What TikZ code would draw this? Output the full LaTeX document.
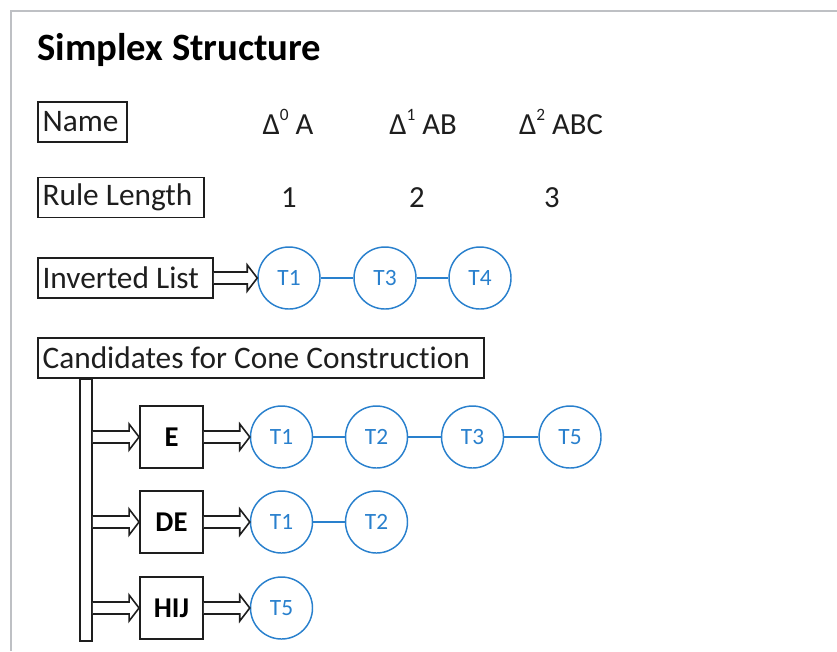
\documentclass[tikz,border=0pt]{standalone}
\usepackage{fontspec}
\setmainfont{Carlito}[Ligatures=NoCommon]
\usetikzlibrary{calc}
\definecolor{tblue}{RGB}{41,128,205}
\definecolor{framegray}{RGB}{190,192,196}
\definecolor{ink}{RGB}{30,30,30}
\newcommand\hollowarrow[2]{%
  \draw[harrow] let \p1=(#1), \p2=(#2) in
    (\x1,\y1+4.5pt) -- (\x2-7.5pt,\y1+4.5pt) -- (\x2-7.5pt,\y1+9.75pt) -- (\x2,\y1)
    -- (\x2-7.5pt,\y1-9.75pt) -- (\x2-7.5pt,\y1-4.5pt) -- (\x1,\y1-4.5pt);}
\newcommand\supnum[1]{\raisebox{0.45em}{\fontsize{13}{13}\selectfont #1}}
\newcommand\boxtext[2]{\makebox[#1][l]{#2}}
\begin{document}
\begin{tikzpicture}[x=0.75pt,y=-0.75pt,
  lbl/.style={draw=ink, line width=1.4pt, inner ysep=0pt, inner xsep=3.5pt,
    minimum height=30pt, anchor=west,
    text=ink, font=\fontsize{23.5}{28}\selectfont},
  plain/.style={inner sep=0pt, text=ink, font=\fontsize{23}{27}\selectfont},
  keybox/.style={draw=ink, line width=1.4pt, inner sep=0pt, minimum width=47.25pt,
    minimum height=46.5pt, text=black, font=\fontsize{21.5}{25}\selectfont\bfseries},
  tnode/.style={circle, draw=tblue, line width=1.1pt, minimum size=46.5pt, inner sep=0pt,
    text=tblue, font=\fontsize{17.5}{20}\selectfont},
  tline/.style={draw=tblue, line width=1.1pt},
  harrow/.style={draw=ink, line width=1.2pt, fill=white, line join=miter},
  framestyle/.style={draw=framegray, line width=1.6pt}]
\useasboundingbox (0,0) rectangle (837,651);
\draw[framestyle] (11,651) -- (11,11) -- (837,11);

\node[anchor=base west, inner sep=0pt, text=black,
  font=\fontsize{29}{34}\selectfont\bfseries] (title) at (37,60) {Simplex Structure};

\node[lbl] (name) at (37,122) {\boxtext{59.75pt}{Name}};
\node[plain] (d0) at (288,122) {Δ\supnum{0} A};
\node[plain] (d1) at (423,122) {Δ\supnum{1} AB};
\node[plain] (d2) at (561,122) {Δ\supnum{2} ABC};

\node[lbl] (rule) at (37,197.5) {\boxtext{117.5pt}{Rule Length}};
\node[plain] (n1) at (289,198) {1};
\node[plain] (n2) at (417,198) {2};
\node[plain] (n3) at (552,198) {3};

\node[lbl] (inv) at (37,278) {\boxtext{124.25pt}{Inverted List}};
\node[tnode] (i1) at (289,278) {T1};
\node[tnode] (i3) at (385,278) {T3};
\node[tnode] (i4) at (480,278) {T4};
\hollowarrow{inv.east}{i1.west}
\draw[tline] (i1) -- (i3);
\draw[tline] (i3) -- (i4);

\node[lbl] (cand) at (37,358) {\boxtext{327.5pt}{Candidates for Cone Construction}};
\node[draw=ink, line width=1.4pt, minimum width=9pt, minimum height=196.5pt, inner sep=0pt,
  anchor=north] (bar) at (86,378) {};

\node[keybox] (e) at (171.5,437) {E};
\node[keybox] (de) at (171.5,522) {DE};
\node[keybox] (hij) at (171.5,608) {HIJ};

\hollowarrow{bar.east |- e.west}{e.west}
\hollowarrow{bar.east |- de.west}{de.west}
\hollowarrow{bar.east |- hij.west}{hij.west}

\node[tnode] (e1) at (281.5,437) {T1};
\node[tnode] (e2) at (376.5,437) {T2};
\node[tnode] (e3) at (472.5,437) {T3};
\node[tnode] (e5) at (570,437) {T5};
\hollowarrow{e.east}{e1.west}
\draw[tline] (e1) -- (e2);
\draw[tline] (e2) -- (e3);
\draw[tline] (e3) -- (e5);

\node[tnode] (de1) at (281.5,522) {T1};
\node[tnode] (de2) at (376.5,522) {T2};
\hollowarrow{de.east}{de1.west}
\draw[tline] (de1) -- (de2);

\node[tnode] (h5) at (281.5,608) {T5};
\hollowarrow{hij.east}{h5.west}
\end{tikzpicture}
\end{document}
